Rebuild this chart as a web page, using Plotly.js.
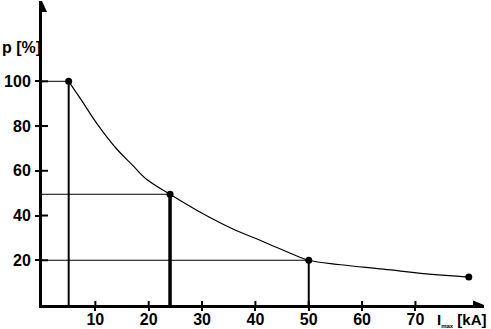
<!DOCTYPE html>
<html>
<head>
<meta charset="utf-8">
<script src="https://cdn.plot.ly/plotly-3.0.1.min.js"></script>
<style>html,body{margin:0;padding:0;background:#fff;}#chart{width:491px;height:329px;}</style>
</head>
<body>
<div id="chart"></div>
<script>
// Curve p [%] versus I [kA]
var curveX = [5, 7.3, 10.5, 13.8, 17.1, 19.3, 24, 29.5, 35.5, 41.5, 48, 50, 56, 64, 72, 80];
var curveY = [100, 91.9, 80.4, 70.3, 62.2, 56.8, 49.5, 41.7, 34.3, 28.3, 21.7, 20, 18.0, 16.0, 13.9, 12.5];
// Marked points
var pointX = [5, 24, 50, 80];
var pointY = [100, 49.5, 20, 12.5];
// Reference (drop) lines
var levelX = [5, 24, 50];
var levelY = [100, 49.5, 20];
var levelWidth = [2, 3.5, 2];
// Ticks
var xTicks = [10, 20, 30, 40, 50, 60, 70];
var yTicks = [20, 40, 60, 80, 100];

var M = {l: 42, r: 7, t: 1, b: 24};
var W = 491 - M.l - M.r, H = 329 - M.t - M.b;
var xMax = 82.85, yMax = 135.9;
var font = {family: 'Liberation Sans, Arial, sans-serif', size: 16, color: '#000', weight: 'bold'};
var unitFont = {family: 'Liberation Sans, Arial, sans-serif', size: 15, color: '#000', weight: 'bold'};

var traces = [];
for (var i = 0; i < levelX.length; i++) {
  traces.push({x: [0, levelX[i]], y: [levelY[i], levelY[i]], mode: 'lines',
    line: {color: '#000', width: 1}, hoverinfo: 'skip', showlegend: false});
  traces.push({x: [levelX[i], levelX[i]], y: [0, levelY[i]], mode: 'lines',
    line: {color: '#000', width: levelWidth[i]}, hoverinfo: 'skip', showlegend: false});
}
traces.push({x: curveX, y: curveY, mode: 'lines', line: {color: '#000', width: 1.2, shape: 'spline', smoothing: 1.2},
  hoverinfo: 'skip', showlegend: false});
traces.push({x: pointX, y: pointY, mode: 'markers', marker: {color: '#000', size: 7},
  hoverinfo: 'skip', showlegend: false});

var pxX = xMax / W, pxY = yMax / H; // data units per pixel
var shapes = [];
// arrow heads
shapes.push({type: 'path', xref: 'x', yref: 'y', fillcolor: '#000', line: {width: 0},
  path: 'M ' + (-5 * pxX) + ' ' + (yMax - 11 * pxY) + ' L 0 ' + yMax + ' L ' + (5 * pxX) + ' ' + (yMax - 11 * pxY) + ' Z'});
shapes.push({type: 'path', xref: 'x', yref: 'y', fillcolor: '#000', line: {width: 0},
  path: 'M ' + (xMax - 11 * pxX) + ' ' + (4.5 * pxY) + ' L ' + xMax + ' 0 L ' + (xMax - 11 * pxX) + ' ' + (-4.5 * pxY) + ' Z'});
// inner parts of ticks (ticks cross the axes)
xTicks.forEach(function (v) {
  shapes.push({type: 'line', xref: 'x', yref: 'y', x0: v, x1: v, y0: 0, y1: 4 * pxY, line: {color: '#000', width: 2}});
});
yTicks.forEach(function (v) {
  shapes.push({type: 'line', xref: 'x', yref: 'y', x0: 0, x1: 6 * pxX, y0: v, y1: v, line: {color: '#000', width: 2}});
});

var layout = {
  width: 491, height: 329, margin: M,
  paper_bgcolor: '#fff', plot_bgcolor: '#fff', font: font, showlegend: false,
  xaxis: {range: [0, xMax], tickvals: xTicks, ticktext: xTicks.map(String), showgrid: false, zeroline: false,
    showline: true, linecolor: '#000', linewidth: 3, ticks: 'outside', ticklen: 3, tickwidth: 2, tickcolor: '#000',
    tickfont: font, ticklabelstandoff: -5, fixedrange: true},
  yaxis: {range: [0, yMax], tickvals: yTicks, ticktext: yTicks.map(String), showgrid: false, zeroline: false,
    showline: true, linecolor: '#000', linewidth: 3, ticks: 'outside', ticklen: 4, tickwidth: 2, tickcolor: '#000',
    tickfont: font, ticklabelstandoff: 1, fixedrange: true},
  shapes: shapes,
  annotations: [
    {xref: 'paper', yref: 'y', x: -M.l / W, y: 115.3, xanchor: 'left', yanchor: 'middle', showarrow: false,
      text: 'p [%]', font: font},
    {xref: 'paper', yref: 'paper', x: (489 - M.l) / W, y: -15 / H, xanchor: 'right', yanchor: 'middle', showarrow: false,
      text: 'I<sub><span style="font-size:6px">max</span></sub> [kA]', font: unitFont}
  ]
};
Plotly.newPlot('chart', traces, layout, {staticPlot: true, displayModeBar: false});
</script>
</body>
</html>
